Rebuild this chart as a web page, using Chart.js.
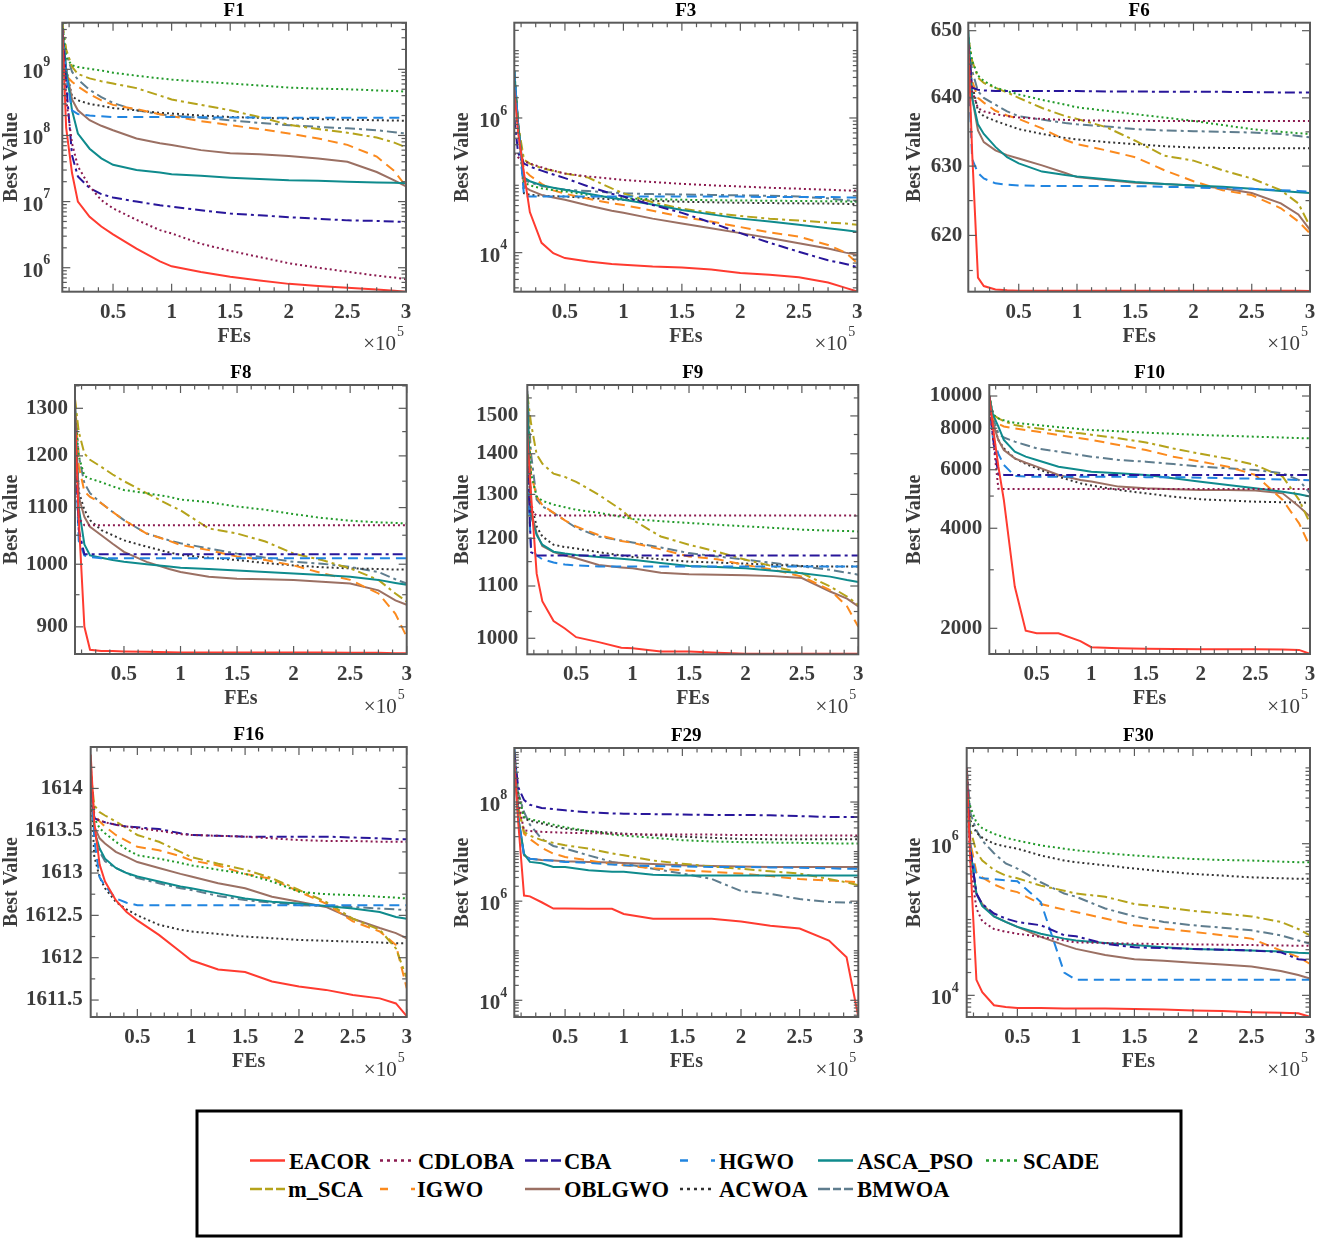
<!DOCTYPE html>
<html>
<head>
<meta charset="utf-8">
<script src="https://cdn.jsdelivr.net/npm/chart.js@4.4.0/dist/chart.umd.min.js"></script>
<style>
  body { margin: 0; background: #fff; width: 1317px; height: 1240px; position: relative; overflow: hidden; }
  .panel { position: absolute; }
  #legend { position: absolute; left: 0; top: 1108px; }
</style>
</head>
<body>
<svg id="legend" width="1317" height="132"></svg>
<script>
// FEs (x 10^5) sampled along each convergence curve
const FES = [0.067, 0.1, 0.15, 0.2, 0.3, 0.4, 0.5, 0.7, 0.9, 1.0, 1.25, 1.5, 1.75, 2.0, 2.25, 2.5, 2.75, 2.9, 3.0];
const X_TICKS = [0.5, 1, 1.5, 2, 2.5, 3];
const ALGOS = ["EACOR", "CDLOBA", "CBA", "HGWO", "ASCA_PSO", "SCADE", "m_SCA", "IGWO", "OBLGWO", "ACWOA", "BMWOA"];

// one row per algorithm, same order as ALGOS
const F1 = [
  [4e9, 1.3e8, 2.7e7, 1e7, 5.9e6, 4.2e6, 3.2e6, 1.95e6, 1.25e6, 1.05e6, 8.6e5, 7.3e5, 6.4e5, 5.7e5, 5.3e5, 5.0e5, 4.7e5, 4.5e5, 4.35e5],
  [4e9, 3.5e8, 7.6e7, 3.4e7, 1.7e7, 1.05e7, 7.9e6, 5.3e6, 3.7e6, 3.3e6, 2.3e6, 1.8e6, 1.45e6, 1.17e6, 1.0e6, 8.7e5, 7.6e5, 7.1e5, 6.7e5],
  [4e9, 6e8, 5e7, 2.4e7, 1.6e7, 1.3e7, 1.15e7, 1.0e7, 8.8e6, 8.4e6, 7.4e6, 6.6e6, 6.2e6, 5.8e6, 5.5e6, 5.2e6, 5.1e6, 5.0e6, 4.9e6],
  [4e9, 8e8, 2.4e8, 2.1e8, 2.0e8, 1.95e8, 1.9e8, 1.9e8, 1.9e8, 1.9e8, 1.88e8, 1.87e8, 1.86e8, 1.86e8, 1.85e8, 1.85e8, 1.85e8, 1.85e8, 1.85e8],
  [4e9, 1e9, 2.4e8, 1.07e8, 6.3e7, 4.5e7, 3.6e7, 3.0e7, 2.75e7, 2.6e7, 2.45e7, 2.3e7, 2.2e7, 2.1e7, 2.07e7, 2.0e7, 1.94e7, 1.92e7, 1.9e7],
  [5e9, 1.5e9, 1.15e9, 1.08e9, 1.02e9, 9.6e8, 8.9e8, 8.0e8, 7.3e8, 7.0e8, 6.5e8, 6.1e8, 5.7e8, 5.3e8, 5.1e8, 5.0e8, 4.8e8, 4.7e8, 4.6e8],
  [5e9, 2e9, 1.1e9, 8.5e8, 7.3e8, 6.6e8, 6.1e8, 5.2e8, 4.0e8, 3.5e8, 2.9e8, 2.4e8, 1.9e8, 1.45e8, 1.25e8, 1.1e8, 9.3e7, 7.8e7, 6.6e7],
  [4e9, 8e8, 6.5e8, 5.5e8, 4.2e8, 3.4e8, 2.9e8, 2.5e8, 2.1e8, 1.95e8, 1.65e8, 1.43e8, 1.25e8, 1.07e8, 9.0e7, 7.2e7, 4.8e7, 2.9e7, 1.7e7],
  [4e9, 1e9, 3.5e8, 2.4e8, 1.7e8, 1.4e8, 1.2e8, 9.0e7, 7.6e7, 7.2e7, 6.0e7, 5.4e7, 5.2e7, 4.9e7, 4.5e7, 4.0e7, 2.8e7, 2.1e7, 1.7e7],
  [4e9, 1e9, 3.9e8, 3.4e8, 3.0e8, 2.8e8, 2.6e8, 2.4e8, 2.2e8, 2.15e8, 2.0e8, 1.9e8, 1.85e8, 1.8e8, 1.77e8, 1.73e8, 1.7e8, 1.68e8, 1.67e8],
  [5e9, 1.8e9, 9.2e8, 7e8, 4.9e8, 3.8e8, 3.1e8, 2.4e8, 2.1e8, 2.0e8, 1.85e8, 1.7e8, 1.55e8, 1.43e8, 1.35e8, 1.28e8, 1.2e8, 1.12e8, 1.07e8]
];
const F3 = [
  [2.6e6, 6e5, 1.5e5, 4e4, 1.4e4, 9.8e3, 8.3e3, 7.4e3, 6.8e3, 6.6e3, 6.2e3, 6.0e3, 5.6e3, 5.0e3, 4.7e3, 4.3e3, 3.6e3, 3.0e3, 2.65e3],
  [3e5, 2.6e5, 2.3e5, 2.1e5, 1.85e5, 1.65e5, 1.5e5, 1.35e5, 1.25e5, 1.2e5, 1.12e5, 1.05e5, 1.0e5, 9.6e4, 9.2e4, 8.9e4, 8.6e4, 8.4e4, 8.3e4],
  [1e6, 3e5, 2.1e5, 1.9e5, 1.65e5, 1.45e5, 1.28e5, 9.6e4, 7.5e4, 6.8e4, 5.1e4, 3.9e4, 2.8e4, 1.95e4, 1.4e4, 1.03e4, 7.7e3, 6.8e3, 6.1e3],
  [5e6, 8e5, 7e4, 6.8e4, 6.8e4, 6.8e4, 6.8e4, 6.8e4, 6.8e4, 6.8e4, 6.8e4, 6.8e4, 6.8e4, 6.8e4, 6.7e4, 6.7e4, 6.7e4, 6.6e4, 6.6e4],
  [5e6, 8e5, 1.3e5, 1.15e5, 1.0e5, 9.2e4, 8.6e4, 7.5e4, 6.5e4, 6.1e4, 5.2e4, 4.3e4, 3.7e4, 3.2e4, 2.9e4, 2.6e4, 2.3e4, 2.15e4, 2.05e4],
  [5e6, 8e5, 1.1e5, 1.0e5, 9.0e4, 8.5e4, 8.1e4, 7.2e4, 6.6e4, 6.4e4, 6.2e4, 6.1e4, 6.0e4, 5.95e4, 5.9e4, 5.85e4, 5.8e4, 5.75e4, 5.7e4],
  [4e6, 8e5, 2.4e5, 2.1e5, 1.8e5, 1.65e5, 1.5e5, 1.3e5, 9.0e4, 7.6e4, 5.6e4, 4.5e4, 3.9e4, 3.5e4, 3.2e4, 3.0e4, 2.8e4, 2.7e4, 2.6e4],
  [4e6, 8e5, 1.7e5, 1.4e5, 1.05e5, 8.4e4, 7.5e4, 6.3e4, 5.4e4, 5.1e4, 4.2e4, 3.4e4, 2.9e4, 2.4e4, 2.0e4, 1.73e4, 1.3e4, 1.0e4, 7.0e3],
  [4e6, 8e5, 9.6e4, 8.5e4, 7.2e4, 6.6e4, 6.1e4, 5.0e4, 4.2e4, 3.9e4, 3.2e4, 2.7e4, 2.3e4, 1.95e4, 1.65e4, 1.38e4, 1.15e4, 1.0e4, 9.3e3],
  [4e6, 8e5, 7.6e4, 7.2e4, 7.0e4, 6.9e4, 6.8e4, 6.5e4, 6.2e4, 6.1e4, 5.9e4, 5.7e4, 5.6e4, 5.5e4, 5.45e4, 5.4e4, 5.35e4, 5.3e4, 5.3e4],
  [5e6, 8e5, 1.2e5, 1.1e5, 9.8e4, 9.2e4, 8.6e4, 8.2e4, 7.8e4, 7.6e4, 7.4e4, 7.3e4, 7.2e4, 7.1e4, 7.0e4, 6.8e4, 6.4e4, 6.0e4, 5.8e4]
];
const F6 = [
  [648, 632, 614, 612.8, 612.3, 612.2, 612.15, 612.15, 612.15, 612.15, 612.15, 612.15, 612.15, 612.15, 612.15, 612.15, 612.15, 612.15, 612.1],
  [647, 641, 638.5, 638, 637.6, 637.3, 637.1, 636.9, 636.75, 636.7, 636.65, 636.6, 636.6, 636.6, 636.6, 636.6, 636.6, 636.6, 636.6],
  [648, 641.5, 641.2, 641.1, 641.0, 641.0, 641.0, 641.0, 641.0, 641.0, 640.95, 640.95, 640.9, 640.9, 640.9, 640.85, 640.8, 640.8, 640.8],
  [645, 631, 629, 628.2, 627.5, 627.3, 627.2, 627.1, 627.1, 627.1, 627.1, 627.1, 627.0, 626.9, 626.8, 626.7, 626.5, 626.4, 626.3],
  [650, 640, 636.1, 634.7, 632.8, 631.3, 630.4, 629.2, 628.7, 628.5, 628.1, 627.7, 627.4, 627.2, 627.0, 626.7, 626.4, 626.2, 626.1],
  [649, 645.5, 643.3, 642.5, 641.5, 641, 640.5, 639.7, 639, 638.6, 638.1, 637.6, 637.1, 636.6, 636, 635.4, 635, 634.8, 634.7],
  [649, 645.5, 643, 642.2, 641.5, 640.8, 640, 638.5, 637.3, 636.9, 635.7, 633.7, 631.5, 630.8, 629.4, 628.2, 626.5, 624.6, 621.3],
  [647, 642.5, 640, 639.3, 638.1, 637.4, 636.9, 635.5, 633.8, 633.2, 632.3, 631.3, 629.4, 627.8, 626.5, 625.8, 623.9, 622, 620.3],
  [648, 640, 635.2, 633.5, 632.3, 631.6, 631.1, 630.1, 629, 628.4, 628, 627.6, 627.4, 627.2, 626.8, 626.1, 624.6, 623, 620.8],
  [646, 642, 638.1, 637.3, 636.6, 636, 635.4, 634.7, 634.1, 633.9, 633.5, 633.2, 632.9, 632.7, 632.65, 632.6, 632.6, 632.6, 632.6],
  [649, 644, 641, 640, 639, 638, 637.3, 636.8, 636.3, 636.1, 635.8, 635.4, 635.2, 635.1, 635, 634.9, 634.7, 634.4, 634.2]
];
const F8 = [
  [1290, 1080, 900, 866, 864, 864, 863.5, 863, 862.5, 862, 862, 862, 862, 862, 862, 861.5, 861.5, 861, 861],
  [1200, 1080, 1068, 1068, 1068, 1068, 1068, 1068, 1068, 1068, 1068, 1068, 1068, 1068, 1068, 1068, 1068, 1068, 1068],
  [1270, 1060, 1017, 1017, 1017, 1017, 1017, 1017, 1017, 1017, 1017, 1017, 1017, 1017, 1017, 1017, 1017, 1017, 1017],
  [1240, 1040, 1015, 1012, 1010, 1010, 1010, 1010, 1010, 1010, 1010, 1010, 1010, 1010, 1010, 1010, 1010, 1010, 1010],
  [1300, 1100, 1034, 1015, 1011, 1007, 1004, 1000, 996, 994, 992, 989.5, 987, 984.7, 982, 979, 974, 969, 966],
  [1290, 1200, 1160, 1155, 1148, 1140, 1133, 1127, 1120, 1115, 1110, 1102, 1096, 1088, 1081, 1076, 1073, 1072, 1071],
  [1320, 1250, 1205, 1192, 1178, 1163, 1150, 1127, 1105, 1095, 1062, 1053, 1039, 1018, 1007, 993, 974, 952, 939],
  [1320, 1180, 1130, 1120, 1108, 1092, 1077, 1053, 1040, 1033, 1024, 1013, 1007, 998, 985, 974, 952, 920, 885],
  [1300, 1120, 1083, 1065, 1050, 1035, 1021, 1004, 992, 987, 979, 976, 975, 974, 971, 968, 957, 941, 934],
  [1280, 1130, 1096, 1077, 1059, 1050, 1041, 1030, 1020, 1016, 1011, 1007, 1002, 998, 995, 993, 992, 991, 991],
  [1310, 1200, 1146, 1127, 1108, 1092, 1077, 1053, 1041, 1036, 1027, 1018, 1011, 1004, 1001, 995.5, 987, 975, 968]
];
const F9 = [
  [1450, 1300, 1125, 1070, 1032, 1018, 1002, 993, 983, 982, 976, 976, 974, 972, 972, 972, 972, 972, 972],
  [1420, 1260, 1251, 1251, 1251, 1251, 1251, 1251, 1251, 1251, 1251, 1251, 1251, 1251, 1251, 1251, 1251, 1251, 1251],
  [1400, 1170, 1163, 1163, 1163, 1163, 1163, 1163, 1163, 1163, 1163, 1163, 1163, 1163, 1163, 1163, 1163, 1163, 1163],
  [1350, 1180, 1163, 1155, 1148, 1144, 1142, 1140, 1140, 1140, 1140, 1140, 1140, 1140, 1140, 1140, 1140, 1140, 1140],
  [1560, 1250, 1207, 1186, 1171, 1167, 1164, 1160, 1156, 1154, 1147, 1141, 1139, 1136, 1131, 1126, 1119, 1112, 1108],
  [1540, 1350, 1295, 1285, 1276, 1270, 1264, 1257, 1248, 1243, 1238, 1234, 1230, 1226.5, 1223, 1219, 1217, 1216, 1215],
  [1560, 1480, 1398, 1375, 1350, 1342, 1330, 1299, 1264, 1241, 1204, 1186, 1171, 1154, 1140, 1126, 1099, 1079, 1063],
  [1540, 1350, 1295, 1275, 1257, 1240, 1226, 1207, 1194, 1190, 1176, 1161, 1155, 1143, 1133, 1119, 1092, 1060, 1021],
  [1560, 1260, 1211, 1183, 1170, 1163, 1157, 1143, 1138, 1136, 1127, 1124, 1123, 1122, 1120, 1116, 1089, 1075, 1060],
  [1540, 1280, 1226, 1204, 1186, 1181, 1178, 1170, 1163, 1160, 1155, 1150, 1148, 1146, 1143, 1141, 1140, 1140, 1140],
  [1570, 1400, 1288, 1272, 1257, 1240, 1223, 1204, 1195, 1191, 1180, 1168, 1161, 1154, 1147, 1140, 1133, 1127, 1123]
];
const F10 = [
  [10000, 8088, 6130, 4866, 2672, 1968, 1932, 1932, 1830, 1755, 1743, 1735, 1732, 1730, 1730, 1730, 1728, 1722, 1675],
  [9500, 7500, 5260, 5250, 5250, 5250, 5250, 5250, 5250, 5250, 5250, 5250, 5250, 5250, 5250, 5250, 5250, 5250, 5250],
  [10000, 7500, 5800, 5790, 5785, 5785, 5785, 5785, 5785, 5785, 5785, 5785, 5785, 5785, 5785, 5785, 5785, 5785, 5785],
  [9500, 7500, 6700, 6200, 5750, 5720, 5720, 5720, 5720, 5720, 5720, 5700, 5700, 5680, 5660, 5640, 5610, 5590, 5580],
  [10000, 8800, 8088, 7374, 6800, 6570, 6420, 6130, 5990, 5920, 5853, 5785, 5654, 5525, 5400, 5276, 5155, 5060, 4980],
  [10000, 8800, 8566, 8450, 8300, 8240, 8181, 8060, 7950, 7902, 7830, 7755, 7700, 7632, 7590, 7544, 7500, 7470, 7458],
  [10000, 8800, 8566, 8400, 8181, 8080, 7993, 7850, 7720, 7650, 7458, 7250, 6950, 6700, 6480, 6200, 5720, 4870, 4140],
  [10000, 8600, 8250, 8100, 7993, 7900, 7818, 7632, 7458, 7374, 7124, 6879, 6569, 6346, 6130, 5785, 4866, 4140, 3520],
  [10000, 8300, 7374, 6879, 6494, 6300, 6130, 5785, 5588, 5530, 5338, 5276, 5240, 5215, 5215, 5200, 5095, 4650, 4340],
  [10000, 8300, 7374, 6960, 6494, 6250, 6058, 5720, 5462, 5380, 5215, 5095, 4978, 4890, 4850, 4810, 4790, 4780, 4776],
  [10000, 8600, 7720, 7500, 7290, 7120, 6960, 6800, 6645, 6570, 6419, 6346, 6240, 6130, 6060, 5990, 5853, 5588, 5095]
];
const F16 = [
  [1614.4, 1613.6, 1613.1, 1612.9, 1612.68, 1612.54, 1612.44, 1612.27, 1612.07, 1611.97, 1611.86, 1611.83, 1611.72, 1611.66, 1611.62, 1611.56, 1611.52, 1611.46, 1611.31],
  [1614.2, 1613.65, 1613.62, 1613.6, 1613.57, 1613.55, 1613.53, 1613.5, 1613.46, 1613.45, 1613.44, 1613.43, 1613.41, 1613.39, 1613.38, 1613.38, 1613.37, 1613.37, 1613.37],
  [1614.2, 1613.65, 1613.62, 1613.6, 1613.57, 1613.55, 1613.54, 1613.52, 1613.47, 1613.45, 1613.44, 1613.43, 1613.43, 1613.43, 1613.43, 1613.42, 1613.41, 1613.4, 1613.4],
  [1614.3, 1613.4, 1612.95, 1612.85, 1612.7, 1612.65, 1612.62, 1612.62, 1612.62, 1612.62, 1612.62, 1612.62, 1612.62, 1612.62, 1612.62, 1612.62, 1612.62, 1612.62, 1612.62],
  [1614.2, 1613.5, 1613.29, 1613.17, 1613.06, 1613.0, 1612.96, 1612.9, 1612.84, 1612.82, 1612.76, 1612.7, 1612.66, 1612.64, 1612.61, 1612.58, 1612.54, 1612.48, 1612.46],
  [1614.2, 1613.65, 1613.53, 1613.47, 1613.37, 1613.28, 1613.21, 1613.17, 1613.12, 1613.09, 1613.04, 1612.99, 1612.9, 1612.78, 1612.75, 1612.74, 1612.72, 1612.71, 1612.7],
  [1614.2, 1613.8, 1613.72, 1613.68, 1613.61, 1613.53, 1613.45, 1613.37, 1613.25, 1613.19, 1613.11, 1613.04, 1612.94, 1612.8, 1612.66, 1612.46, 1612.33, 1612.11, 1611.76],
  [1614.2, 1613.7, 1613.61, 1613.55, 1613.45, 1613.38, 1613.31, 1613.27, 1613.2, 1613.15, 1613.09, 1612.99, 1612.93, 1612.78, 1612.64, 1612.43, 1612.31, 1612.15, 1611.64],
  [1614.2, 1613.55, 1613.41, 1613.35, 1613.25, 1613.19, 1613.13, 1613.06, 1612.99, 1612.96, 1612.88, 1612.82, 1612.72, 1612.66, 1612.6, 1612.46, 1612.35, 1612.29, 1612.23],
  [1614.1, 1613.2, 1612.95, 1612.82, 1612.66, 1612.57, 1612.5, 1612.39, 1612.33, 1612.31, 1612.28, 1612.25, 1612.23, 1612.21, 1612.2, 1612.19, 1612.18, 1612.17, 1612.17],
  [1614.2, 1613.5, 1613.25, 1613.14, 1613.06, 1613.0, 1612.94, 1612.88, 1612.82, 1612.8, 1612.73, 1612.68, 1612.65, 1612.62, 1612.61, 1612.6, 1612.58, 1612.57, 1612.56]
];
const F29 = [
  [7e8, 4e7, 1.3e6, 1.25e6, 9.5e5, 7.1e5, 7.1e5, 7.0e5, 7.0e5, 5.5e5, 4.4e5, 4.4e5, 4.4e5, 3.9e5, 3.2e5, 2.8e5, 1.6e5, 7.4e4, 4.7e3],
  [5e8, 1e8, 2.7e7, 2.6e7, 2.5e7, 2.45e7, 2.4e7, 2.35e7, 2.3e7, 2.25e7, 2.2e7, 2.2e7, 2.2e7, 2.15e7, 2.15e7, 2.1e7, 2.1e7, 2.1e7, 2.1e7],
  [1e9, 2e8, 1.1e8, 8.8e7, 7.6e7, 7.2e7, 6.8e7, 6.2e7, 5.9e7, 5.8e7, 5.7e7, 5.6e7, 5.5e7, 5.5e7, 5.4e7, 5.2e7, 5.0e7, 5.0e7, 5.0e7],
  [1.2e9, 5e7, 8.2e6, 7.2e6, 6.8e6, 6.5e6, 6.2e6, 5.9e6, 5.5e6, 5.3e6, 5.1e6, 5.0e6, 4.9e6, 4.9e6, 4.8e6, 4.7e6, 4.6e6, 4.5e6, 4.5e6],
  [1e9, 5e7, 9e6, 6.2e6, 5.8e6, 4.9e6, 4.9e6, 4.2e6, 3.9e6, 3.9e6, 3.4e6, 3.3e6, 3.3e6, 3.3e6, 3.3e6, 3.3e6, 3.3e6, 3.3e6, 3.3e6],
  [1e9, 1.5e8, 5e7, 4.5e7, 4e7, 3.5e7, 3.1e7, 2.6e7, 2.2e7, 2.1e7, 1.9e7, 1.7e7, 1.6e7, 1.55e7, 1.52e7, 1.5e7, 1.47e7, 1.45e7, 1.45e7],
  [6e8, 8e7, 2.5e7, 2.1e7, 1.7e7, 1.5e7, 1.34e7, 1.15e7, 9.2e6, 8.4e6, 6.6e6, 5.7e6, 5.0e6, 4.5e6, 4.0e6, 3.6e6, 2.8e6, 2.4e6, 2.1e6],
  [6e8, 8e7, 2.3e7, 1.8e7, 1.2e7, 9.1e6, 7.8e6, 6.6e6, 5.6e6, 5.3e6, 4.6e6, 4.2e6, 3.9e6, 3.6e6, 3.2e6, 2.8e6, 2.6e6, 2.5e6, 2.4e6],
  [8e8, 5e7, 8.4e6, 7.2e6, 6.8e6, 6.6e6, 6.4e6, 6.2e6, 6.0e6, 5.9e6, 5.6e6, 5.3e6, 5.1e6, 5.0e6, 4.9e6, 4.9e6, 4.9e6, 4.9e6, 4.9e6],
  [8e8, 1.5e8, 4.6e7, 4.2e7, 3.7e7, 3.2e7, 2.9e7, 2.6e7, 2.4e7, 2.3e7, 2.15e7, 2.0e7, 1.9e7, 1.8e7, 1.78e7, 1.77e7, 1.77e7, 1.77e7, 1.77e7],
  [1.2e9, 1.5e8, 6.3e7, 3.5e7, 1.8e7, 1.3e7, 1.15e7, 8.4e6, 6.2e6, 5.7e6, 4.5e6, 3.6e6, 2.8e6, 1.6e6, 1.4e6, 1.1e6, 9.6e5, 9.4e5, 9.4e5]
];
const F30 = [
  [1e7, 5e5, 1.6e4, 1.1e4, 7.4e3, 7.0e3, 6.8e3, 6.8e3, 6.7e3, 6.7e3, 6.7e3, 6.6e3, 6.5e3, 6.3e3, 6.2e3, 6.0e3, 5.9e3, 5.8e3, 5.2e3],
  [5e6, 5e5, 1.4e5, 9.5e4, 7.5e4, 6.9e4, 6.5e4, 5.9e4, 5.3e4, 5.0e4, 4.9e4, 4.8e4, 4.75e4, 4.7e4, 4.65e4, 4.6e4, 4.55e4, 4.5e4, 4.5e4],
  [1e7, 8e5, 2.2e5, 1.6e5, 1.2e5, 1.03e5, 9.3e4, 8.4e4, 6.2e4, 6.0e4, 4.8e4, 4.3e4, 4.2e4, 4.1e4, 4.0e4, 3.9e4, 3.7e4, 3.0e4, 2.9e4],
  [1e7, 8e5, 3.7e5, 3.5e5, 3.4e5, 3.3e5, 3.2e5, 1.7e5, 2.0e4, 1.6e4, 1.6e4, 1.6e4, 1.6e4, 1.6e4, 1.6e4, 1.6e4, 1.6e4, 1.6e4, 1.6e4],
  [1e7, 8e5, 2.2e5, 1.5e5, 1.1e5, 9.3e4, 8.0e4, 6.5e4, 5.6e4, 5.3e4, 4.9e4, 4.6e4, 4.3e4, 4.1e4, 4.0e4, 3.9e4, 3.8e4, 3.65e4, 3.6e4],
  [5e6, 3e6, 1.9e6, 1.6e6, 1.35e6, 1.2e6, 1.1e6, 9.5e5, 8.6e5, 8.2e5, 7.5e5, 7.0e5, 6.6e5, 6.3e5, 6.1e5, 6.0e5, 5.8e5, 5.7e5, 5.7e5],
  [8e6, 1.5e6, 7.8e5, 6e5, 4.5e5, 3.8e5, 3.5e5, 2.8e5, 2.4e5, 2.2e5, 2.0e5, 1.6e5, 1.45e5, 1.3e5, 1.2e5, 1.1e5, 9.3e4, 7.5e4, 6.2e4],
  [1e7, 1e6, 4.2e5, 3.6e5, 2.9e5, 2.5e5, 2.3e5, 1.6e5, 1.35e5, 1.26e5, 1.03e5, 8.4e4, 7.6e4, 6.9e4, 6.2e4, 5.6e4, 3.9e4, 3.2e4, 2.6e4],
  [1e7, 8e5, 2.2e5, 1.6e5, 1.1e5, 9.3e4, 8.0e4, 5.9e4, 4.6e4, 4.1e4, 3.4e4, 3.0e4, 2.85e4, 2.7e4, 2.55e4, 2.4e4, 2.1e4, 1.85e4, 1.66e4],
  [5e6, 2e6, 1.4e6, 1.2e6, 1.0e6, 9.2e5, 8.6e5, 7.0e5, 6.0e5, 5.7e5, 5.2e5, 4.7e5, 4.3e5, 4.0e5, 3.8e5, 3.6e5, 3.5e5, 3.45e5, 3.45e5],
  [1e7, 2.5e6, 1.5e6, 1.1e6, 7.5e5, 5.5e5, 4.7e5, 3.1e5, 2.2e5, 2.0e5, 1.4e5, 1.1e5, 9.3e4, 8.4e4, 7.8e4, 7.2e4, 6.2e4, 5.3e4, 4.8e4]
];

// labelled y ticks
const F1_YTICKS = [1e6, 1e7, 1e8, 1e9];
const F3_YTICKS = [1e4, 1e6];
const F6_YTICKS = [620, 630, 640, 650];
const F8_YTICKS = [900, 1000, 1100, 1200, 1300];
const F9_YTICKS = [1000, 1100, 1200, 1300, 1400, 1500];
const F10_YTICKS = [2000, 4000, 6000, 8000, 10000];
const F16_YTICKS = [1611.5, 1612, 1612.5, 1613, 1613.5, 1614];
const F29_YTICKS = [1e4, 1e6, 1e8];
const F30_YTICKS = [1e4, 1e6];

// styles
const COLORS = ["#ff3b30", "#8b1a4f", "#28169a", "#2185e0", "#0f8b8d", "#219a2a", "#b5a31b", "#fb8a1e", "#9b7063", "#333333", "#5f7d8e"];
const DASH = [[], [2, 3], [10, 4, 3, 4], [10, 6], [], [2, 3], [10, 4, 3, 4], [10, 6], [], [2, 3], [10, 4, 3, 4]];
const LEG_DASH = ["", "3,4", "12,3,8,3", "8,23", "", "3,4", "12,3,8,3", "8,23", "", "3,4", "12,3,8,3"];
const SERIF = '"Liberation Serif", "Times New Roman", serif';
const LABEL_COLOR = "#3c3c3c";
const AXIS_COLOR = "#5a5a5a";
const X_MIN = 0.067, X_MAX = 3;

const PANELS = [
  { title: "F1", data: F1, ticks: F1_YTICKS, min: 4.34e5, max: 5.07e9, exp: true, minor: "log", box: [0, 0, 450, 362], area: [62.3, 22.7, 406, 291.7], ylab: 12, gap: 12 },
  { title: "F3", data: F3, ticks: F3_YTICKS, min: 2.63e3, max: 2.6e7, exp: true, minor: "log", box: [450, 0, 450, 362], area: [514.3, 22.7, 857.3, 291.7], ylab: 463, gap: 7 },
  { title: "F6", data: F6, ticks: F6_YTICKS, min: 612.0, max: 651.2, minor: 5, box: [900, 0, 417, 362], area: [968.3, 22.7, 1310, 291.7], ylab: 915, gap: 6 },
  { title: "F8", data: F8, ticks: F8_YTICKS, min: 859.8, max: 1352, minor: 50, box: [0, 362, 450, 362], area: [75, 385, 406.7, 654], ylab: 12, gap: 7 },
  { title: "F9", data: F9, ticks: F9_YTICKS, min: 971.2, max: 1587, minor: 50, box: [450, 362, 450, 362], area: [527.3, 385, 858.3, 654.3], ylab: 463, gap: 9 },
  { title: "F10", data: F10, ticks: F10_YTICKS, min: 1674, max: 10793, minor: "log", box: [900, 362, 417, 362], area: [989.3, 385, 1310, 654], ylab: 915, gap: 7 },
  { title: "F16", data: F16, ticks: F16_YTICKS, min: 1611.30, max: 1614.49, minor: 0.25, box: [0, 724, 450, 366], area: [90.7, 747, 406.7, 1017], ylab: 12, gap: 8 },
  { title: "F29", data: F29, ticks: F29_YTICKS, min: 4600, max: 1.23e9, exp: true, minor: "log", box: [450, 724, 450, 366], area: [514.3, 748, 858.3, 1017], ylab: 463, gap: 7 },
  { title: "F30", data: F30, ticks: F30_YTICKS, min: 5180, max: 1.83e7, exp: true, minor: "log", box: [900, 724, 417, 366], area: [966.7, 748, 1310, 1017], ylab: 915, gap: 8 }
];

function yMinorTicks(p) {
  const out = [];
  if (p.minor === "log") {
    for (let k = Math.floor(Math.log10(p.min)); k <= Math.ceil(Math.log10(p.max)); k++) {
      for (let m = 1; m <= 9; m++) {
        const v = m * Math.pow(10, k);
        if (v > p.min && v < p.max && !p.ticks.some(t => Math.abs(t - v) / v < 1e-9)) out.push(v);
      }
    }
  } else {
    for (let v = Math.ceil(p.min / p.minor) * p.minor; v < p.max; v += p.minor) {
      if (!p.ticks.some(t => Math.abs(t - v) < 1e-6)) out.push(v);
    }
  }
  return out;
}

function xMinorTicks() {
  const out = [];
  for (let v = 0.125; v < X_MAX; v += 0.125) {
    if (v > X_MIN && !X_TICKS.some(t => Math.abs(t - v) < 1e-9)) out.push(v);
  }
  return out;
}

function makeFrame(p) {
  return {
    id: "frame",
    afterDraw(chart) {
      const ctx = chart.ctx, a = chart.chartArea;
      const xs = chart.scales.x, ys = chart.scales.y;
      const line = (x1, y1, x2, y2) => { ctx.beginPath(); ctx.moveTo(x1, y1); ctx.lineTo(x2, y2); ctx.stroke(); };
      ctx.save();
      ctx.strokeStyle = AXIS_COLOR;
      ctx.lineWidth = 1.2;
      xMinorTicks().forEach(v => { const x = xs.getPixelForValue(v); line(x, a.bottom, x, a.bottom - 4.5); line(x, a.top, x, a.top + 4.5); });
      X_TICKS.forEach(v => { const x = xs.getPixelForValue(v); line(x, a.bottom, x, a.bottom - 8); line(x, a.top, x, a.top + 8); });
      yMinorTicks(p).forEach(v => { const y = ys.getPixelForValue(v); line(a.left, y, a.left + 4.5, y); line(a.right, y, a.right - 4.5, y); });
      p.ticks.forEach(v => { const y = ys.getPixelForValue(v); line(a.left, y, a.left + 8, y); line(a.right, y, a.right - 8, y); });
      ctx.lineWidth = 2;
      ctx.strokeRect(a.left, a.top, a.right - a.left, a.bottom - a.top);

      // 10^k labels
      if (p.exp) {
        ctx.fillStyle = LABEL_COLOR;
        ctx.textBaseline = "middle";
        p.ticks.forEach(v => {
          const y = ys.getPixelForValue(v);
          const e = String(Math.round(Math.log10(v)));
          ctx.font = "bold 14px " + SERIF;
          const w = ctx.measureText(e).width;
          const r = a.left - p.gap;
          ctx.textAlign = "left";
          ctx.fillText(e, r - w, y - 7);
          ctx.font = "bold 21px " + SERIF;
          ctx.textAlign = "right";
          ctx.fillText("10", r - w, y + 3.5);
        });
      }

      // title and axis labels
      const cx = (a.left + a.right) / 2;
      ctx.textAlign = "center";
      ctx.textBaseline = "middle";
      ctx.fillStyle = "#000";
      ctx.font = "bold 19px " + SERIF;
      ctx.fillText(p.title, cx, a.top - 12);

      ctx.fillStyle = LABEL_COLOR;
      ctx.font = "bold 20px " + SERIF;
      ctx.fillText("FEs", cx, a.bottom + 45);

      ctx.save();
      ctx.translate(p.ylab - p.box[0], (a.top + a.bottom) / 2);
      ctx.rotate(-Math.PI / 2);
      ctx.fillText("Best Value", 0, 0);
      ctx.restore();

      ctx.font = "21px " + SERIF;
      ctx.textAlign = "right";
      ctx.fillText("\u00d710", a.right - 10, a.bottom + 53);
      ctx.font = "14px " + SERIF;
      ctx.textAlign = "left";
      ctx.fillText("5", a.right - 9, a.bottom + 41);
      ctx.restore();
    }
  };
}

function makePanel(p) {
  const [bx, by, bw, bh] = p.box;
  const [L, T, R, B] = p.area;
  const div = document.createElement("div");
  div.className = "panel";
  div.style.left = bx + "px";
  div.style.top = by + "px";
  const cv = document.createElement("canvas");
  cv.width = bw; cv.height = bh;
  cv.style.width = bw + "px"; cv.style.height = bh + "px";
  div.appendChild(cv);
  document.body.appendChild(div);

  const tickFont = { family: SERIF, size: 21, weight: "bold" };
  new Chart(cv, {
    type: "line",
    data: {
      datasets: ALGOS.map((name, i) => ({
        label: name,
        data: FES.map((x, j) => ({ x: x, y: p.data[i][j] })),
        borderColor: COLORS[i],
        borderWidth: 2,
        borderDash: DASH[i],
        pointRadius: 0,
        tension: 0,
        fill: false
      }))
    },
    options: {
      responsive: false,
      animation: false,
      layout: { padding: { left: 0, top: T - by, right: bx + bw - R, bottom: 0 } },
      plugins: { legend: { display: false }, tooltip: { enabled: false } },
      scales: {
        x: {
          type: "linear",
          min: X_MIN,
          max: X_MAX,
          bounds: "data",
          grid: { display: false, drawTicks: false },
          border: { display: false },
          ticks: { font: tickFont, color: LABEL_COLOR, padding: 8, maxRotation: 0, autoSkip: false, callback: v => String(v) },
          afterBuildTicks: s => { s.ticks = X_TICKS.map(v => ({ value: v })); },
          afterFit: s => { s.height = by + bh - B; s.paddingLeft = 0; s.paddingRight = 0; }
        },
        y: {
          type: "logarithmic",
          min: p.min,
          max: p.max,
          bounds: "data",
          grid: { display: false, drawTicks: false },
          border: { display: false },
          ticks: { font: tickFont, color: LABEL_COLOR, padding: p.gap, autoSkip: false, callback: v => (p.exp ? "" : String(v)) },
          afterBuildTicks: s => { s.ticks = p.ticks.map(v => ({ value: v })); },
          afterFit: s => { s.width = L - bx; s.paddingTop = 0; s.paddingBottom = 0; }
        }
      }
    },
    plugins: [makeFrame(p)]
  });
}

PANELS.forEach(makePanel);

// shared legend
const LEG_POS = [
  [250, 285, 289, 52.5], [380, 413, 418, 52.5], [525, 561, 564, 52.5], [680, 715, 719, 52.5], [818, 853, 857, 52.5], [986, 1018, 1023, 52.5],
  [250, 285, 288, 81], [380, 415, 417, 81], [525, 560, 564, 81], [680, 715, 719, 81], [818, 853, 857, 81]
];
(function buildLegend() {
  const NS = "http://www.w3.org/2000/svg";
  const svg = document.getElementById("legend");
  const rect = document.createElementNS(NS, "rect");
  rect.setAttribute("x", 197); rect.setAttribute("y", 3);
  rect.setAttribute("width", 984); rect.setAttribute("height", 125);
  rect.setAttribute("fill", "none"); rect.setAttribute("stroke", "#000"); rect.setAttribute("stroke-width", 3);
  svg.appendChild(rect);
  ALGOS.forEach((name, i) => {
    const [x1, x2, tx, y] = LEG_POS[i];
    const ln = document.createElementNS(NS, "line");
    ln.setAttribute("x1", x1); ln.setAttribute("x2", x2);
    ln.setAttribute("y1", y); ln.setAttribute("y2", y);
    ln.setAttribute("stroke", COLORS[i]); ln.setAttribute("stroke-width", 2.5);
    if (LEG_DASH[i]) ln.setAttribute("stroke-dasharray", LEG_DASH[i]);
    svg.appendChild(ln);
    const t = document.createElementNS(NS, "text");
    t.setAttribute("x", tx); t.setAttribute("y", y + 8);
    t.setAttribute("font-family", SERIF.replace(/"/g, "'"));
    t.setAttribute("font-weight", "bold");
    t.setAttribute("font-size", "22.5");
    t.setAttribute("fill", "#000");
    t.textContent = name;
    svg.appendChild(t);
  });
})();
</script>
</body>
</html>
